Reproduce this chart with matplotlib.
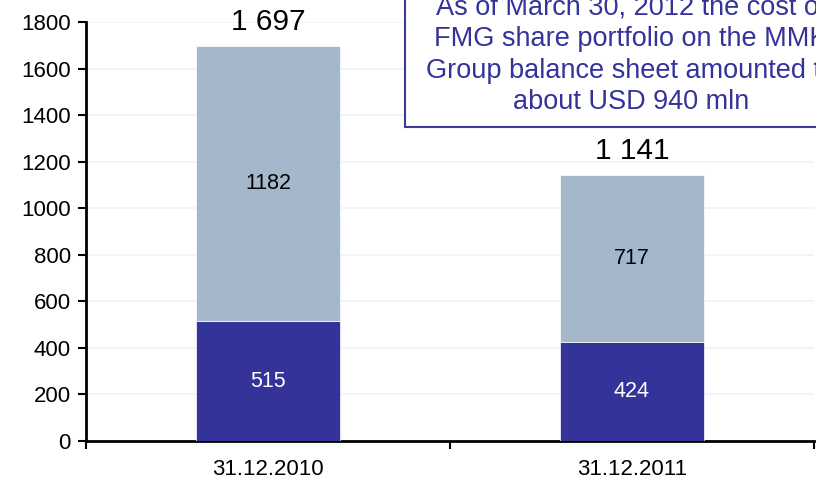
import matplotlib
matplotlib.use("Agg")
import matplotlib.pyplot as plt
from matplotlib.patches import Rectangle

categories = ["31.12.2010", "31.12.2011"]
bottom_values = [515, 424]
top_values = [1182, 717]
total_labels = ["1 697", "1 141"]
yticks = [0, 200, 400, 600, 800, 1000, 1200, 1400, 1600, 1800]
note_text = ("As of March 30, 2012 the cost of\nFMG share portfolio on the MMK\n"
             "Group balance sheet amounted to\nabout USD 940 mln")

plt.rcParams['font.family'] = ['Liberation Sans', 'DejaVu Sans']

fig = plt.figure(figsize=(8.16, 4.79), dpi=100)
ax = fig.add_axes([86/816, 1 - 441/479, (814-86)/816, (441-22)/479])

x = list(range(len(categories)))
dark = "#333399"
light = "#a5b8cb"
ax.bar(x, bottom_values, width=0.395, color=dark, edgecolor="white", linewidth=0.5, zorder=3)
ax.bar(x, top_values, width=0.395, bottom=bottom_values, color=light, edgecolor="white", linewidth=0.5, zorder=3)

for xi, b, t, lab in zip(x, bottom_values, top_values, total_labels):
    ax.text(xi, b / 2, str(b), ha="center", va="center", color="white", fontsize=15.5, zorder=4)
    ax.text(xi, b + t / 2, str(t), ha="center", va="center", color="black", fontsize=15.5, zorder=4)
    ax.text(xi, b + t + 45, lab, ha="center", va="bottom", color="black", fontsize=21.5, zorder=4)

ax.set_xlim(-0.5, 1.5)
ax.set_ylim(0, 1800)
ax.set_yticks(yticks)
ax.set_yticklabels([str(v) for v in yticks], fontsize=16)
ax.set_xticks(x)
ax.set_xticklabels(categories, fontsize=16)
ax.tick_params(axis="x", length=0, pad=13)
ax.set_xticks([-0.5, 0.5, 1.5], minor=True)
ax.tick_params(axis="x", which="minor", length=6, width=1.5, direction="out")
ax.tick_params(axis="y", length=6, width=1.5, direction="out", pad=5)
ax.grid(axis="y", color="#eef3f3", linewidth=1.2, zorder=0)
for s in ["top", "right"]:
    ax.spines[s].set_visible(False)
for s in ["left", "bottom"]:
    ax.spines[s].set_linewidth(2)

# annotation box
fig.patches.append(Rectangle((405/816, 1 - 127/479), (860-405)/816, 140/479,
                             transform=fig.transFigure, facecolor="white",
                             edgecolor="#3a3a9c", linewidth=1.5, zorder=5))
fig.text(631/816, 1 - 55/479, note_text, ha="center", va="center", color=dark,
         fontsize=19.5, linespacing=1.27, zorder=6)

fig.savefig("out.png", dpi=100)
